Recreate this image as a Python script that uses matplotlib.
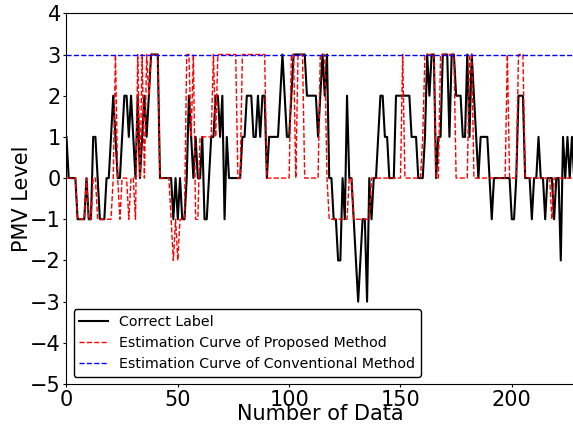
import matplotlib
matplotlib.use("Agg")
import matplotlib.pyplot as plt

# correct PMV labels (black)
correct_label = [
    1, 0, 0, 0, 0, -1, -1, -1, -1, 0,
    -1, -1, 1, 1, 0, -1, -1, -1, 0, 0,
    1, 2, 1, 0, 0, 1, 2, 2, 1, 2,
    1, 0, 2, 0, 1, 2, 1, 2, 3, 3,
    3, 3, 0, 0, 0, 0, 0, 0, -1, 0,
    -1, 0, -1, -1, 0, 2, 1, 0, 1, 0,
    0, 1, -1, -1, 0, 1, 1, 2, 2, 1,
    2, -1, 1, 0, 0, 0, 0, 0, 0, 1,
    1, 2, 2, 2, 1, 1, 2, 1, 2, 2,
    0, 1, 1, 1, 1, 1, 2, 3, 2, 1,
    1, 2, 3, 3, 3, 3, 3, 3, 2, 2,
    2, 2, 2, 1, 2, 3, 2, 3, 0, 0,
    -1, -1, -2, -2, 0, -1, 2, 0, 0, -1,
    -2, -3, -2, -1, -1, -3, 0, -1, 0, 0,
    1, 2, 2, 1, 1, 0, 0, 0, 2, 2,
    2, 2, 2, 2, 2, 1, 1, 1, 0, 0,
    0, 1, 3, 2, 3, 3, 0, 1, 1, 3,
    3, 3, 1, 3, 3, 2, 2, 2, 1, 1,
    3, 1, 3, 2, 1, 0, 1, 1, 1, 1,
    0, -1, 0, 0, 0, 0, 0, 0, 0, 0,
    -1, -1, 0, 2, 2, 2, 0, 0, 0, -1,
    0, 0, 1, 0, 0, -1, 0, 0, 0, -1,
    0, 0, -2, 1, 0, 1, 0, 1, 0,
]

# estimation of proposed method (red dashed)
proposed_est = [
    0, 0, 0, 0, 0, -1, -1, -1, -1, 0,
    -1, -1, 0, 0, -1, -1, -1, -1, -1, -1,
    -1, 0, 3, 0, -1, 0, 0, 0, -1, 0,
    0, -1, 3, 0, 3, 0, 3, 2, 3, 3,
    3, 3, 0, 0, 0, 0, 0, -1, -2, -1,
    -2, -1, -1, -1, 3, 3, 1, 3, -1, -1,
    1, 1, 1, 1, 1, 1, 3, 1, 3, 3,
    3, 3, 3, 3, 3, 3, 3, 0, 0, 3,
    3, 3, 3, 3, 3, 3, 3, 3, 3, 3,
    0, 0, 0, 0, 0, 0, 0, 0, 0, 0,
    0, 3, 3, 0, 3, 3, 3, 0, 0, 0,
    0, 0, 0, 0, 3, 3, 3, 0, -1, -1,
    -1, -1, -1, -1, -1, -1, -1, 0, 0, -1,
    -1, -1, -1, -1, -1, -1, -1, 0, 0, 0,
    0, 0, 0, 0, 0, 0, 0, 0, 0, 0,
    0, 3, 0, 0, 0, 0, 0, 0, 0, 0,
    1, 3, 3, 3, 3, 3, 0, 0, 3, 3,
    3, 3, 3, 3, 3, 0, 0, 0, 0, 0,
    0, 3, 3, 0, 0, 0, 0, 0, 0, 0,
    0, 0, 0, 0, 0, 0, 0, 0, 3, 0,
    0, 0, 0, 3, 3, 3, 0, 0, 0, 0,
    0, 0, 0, 0, 0, 0, 0, 0, -1, 0,
    0, 0, 0, 0, 0, 0, 0, 0, 0,
]

# conventional method always gives level 3 (blue dashed)
conventional_level = 3

x = list(range(len(correct_label)))
conventional_est = [conventional_level] * len(x)

fig = plt.figure(figsize=(5.73, 4.30), dpi=100)
ax = fig.add_axes([0.116, 0.107, 0.886, 0.862])

ax.plot(x, correct_label, color="black", linewidth=1.5, label="Correct Label")
ax.plot(x, proposed_est, "r--", linewidth=1, label="Estimation Curve of Proposed Method")
ax.plot(x, conventional_est, "b--", linewidth=1, label="Estimation Curve of Conventional Method")

ax.set_xlim(0, len(x) - 1)
ax.set_ylim(-5, 4)
ax.set_yticks(range(-5, 5))
ax.set_xticks([0, 50, 100, 150, 200])
ax.tick_params(labelsize=15, length=2.5, pad=1.5)
ax.set_xlabel("Number of Data", fontsize=15, labelpad=-4)
ax.set_ylabel("PMV Level", fontsize=15, labelpad=-1)

leg = ax.legend(loc="lower left", fontsize=10.2, fancybox=True, framealpha=1)
leg.get_frame().set_edgecolor("black")

plt.savefig("out.png", dpi=100)
